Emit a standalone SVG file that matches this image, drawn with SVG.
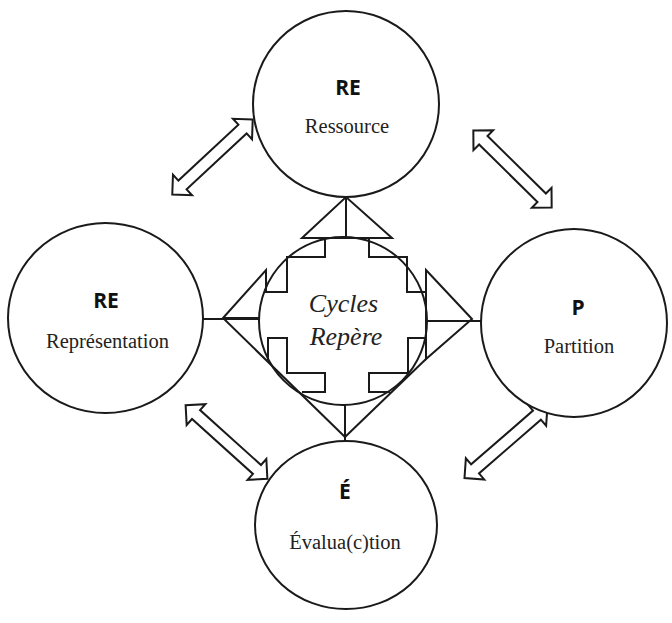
<svg xmlns="http://www.w3.org/2000/svg" width="672" height="623" viewBox="0 0 672 623">
<style>
.c{fill:#fff;stroke:#1a1a1a;stroke-width:2}
.l{fill:none;stroke:#1a1a1a;stroke-width:2;stroke-linejoin:miter}
.a{fill:#fff;stroke:#1a1a1a;stroke-width:2;stroke-linejoin:miter}
.b{font-family:"Open Sans","Liberation Sans",sans-serif;font-weight:bold;font-size:21px;fill:#111;text-anchor:middle}
.t{font-family:"Liberation Serif","Times New Roman",serif;font-size:20.5px;fill:#222;text-anchor:middle}
.i{font-family:"Liberation Serif","Times New Roman",serif;font-style:italic;font-size:26px;fill:#222;text-anchor:middle}
</style>
<defs>
<path id="arr" d="M55,0 L41,-14 L41,-6 L-41,-6 L-41,-14 L-55,0 L-41,14 L-41,6 L41,6 L41,14 Z"/>
</defs>
<rect width="672" height="623" fill="#fff"/>
<g id="connectors">
<path class="l" d="M203,319 H260"/>
<path class="l" d="M426,321 H481"/>
<path class="l" d="M346,197 V238"/>
<path class="l" d="M345,405 V441"/>
<use href="#arr" class="a" transform="translate(212.5,157) rotate(-43)"/>
<use href="#arr" class="a" transform="translate(512.5,169) rotate(44.6)"/>
<use href="#arr" class="a" transform="translate(226.5,442) rotate(42)"/>
<use href="#arr" class="a" transform="translate(506,442) rotate(-41)"/>
</g>
<g id="top"><circle class="c" cx="346" cy="104" r="93"/>
<text class="b" x="348" y="95">RE</text><text class="t" x="347" y="133">Ressource</text></g>
<g id="left"><ellipse class="c" cx="105.5" cy="318" rx="97.5" ry="95"/>
<text class="b" x="106" y="308">RE</text><text class="t" x="107.5" y="348">Représentation</text></g>
<g id="right"><ellipse class="c" cx="574" cy="323" rx="93" ry="94"/>
<text class="b" x="578" y="315">P</text><text class="t" x="579" y="353">Partition</text></g>
<g id="bottom"><ellipse class="c" cx="346" cy="525" rx="91" ry="84"/>
<text class="b" x="345" y="499">É</text><text class="t" x="345" y="549">Évalua(c)tion</text></g>
<g id="center">
<circle class="c" cx="343" cy="321" r="84"/>
<path class="l" d="M302,238 L346,197 L392,238 Z"/>
<path class="l" d="M346,197 V238"/>
<path class="l" d="M325,238 V257 H287 V292 H266 V270 L223,318 L345,437"/>
<path class="l" d="M223,318 H260"/>
<path class="l" d="M268,360 V338 H287 V373 H325 V392 H302"/>
<path class="l" d="M369,238 V257 H407 V292 H426"/>
<path class="l" d="M426,270 L472,319 L426,359 Z"/>
<path class="l" d="M345,437 L426,359"/>
<path class="l" d="M390,392 H369 V373 H408 V338 H426"/>
<path class="l" d="M345,405 V437"/>
<text class="i" x="343.5" y="312">Cycles</text>
<text class="i" x="346" y="345">Repère</text>
</g>
</svg>
